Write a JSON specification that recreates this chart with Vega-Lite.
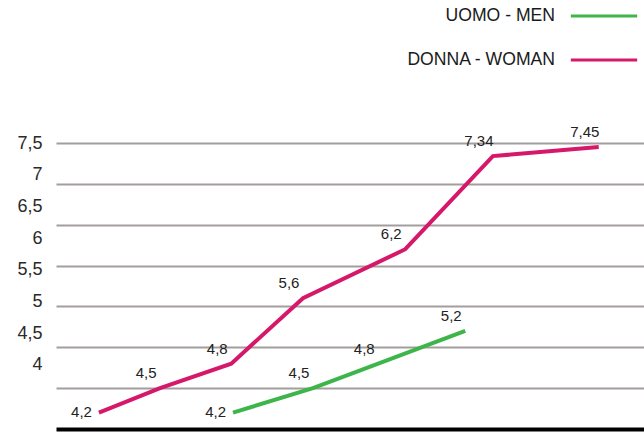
{
  "$schema": "https://vega.github.io/schema/vega-lite/v6.json",
  "width": 588,
  "height": 286,
  "autosize": {"type": "none"},
  "padding": {"left": 56, "top": 143, "right": 0, "bottom": 3},
  "background": "white",
  "config": {
    "view": {"stroke": null},
    "font": "Liberation Sans",
    "locale": {"number": {"decimal": ",", "thousands": ".", "grouping": [3], "currency": ["", " €"]}}
  },
  "data": {
    "values": [
      {"serie": "DONNA - WOMAN", "i": 1, "x": 7.3, "v": 4.2},
      {"serie": "DONNA - WOMAN", "i": 2, "x": 17.7, "v": 4.5},
      {"serie": "DONNA - WOMAN", "i": 3, "x": 29.8, "v": 4.8},
      {"serie": "DONNA - WOMAN", "i": 4, "x": 42.0, "v": 5.6},
      {"serie": "DONNA - WOMAN", "i": 5, "x": 59.4, "v": 6.2},
      {"serie": "DONNA - WOMAN", "i": 6, "x": 74.3, "v": 7.34},
      {"serie": "DONNA - WOMAN", "i": 7, "x": 92.3, "v": 7.45},
      {"serie": "UOMO - MEN", "i": 1, "x": 30.1, "v": 4.2},
      {"serie": "UOMO - MEN", "i": 2, "x": 43.7, "v": 4.5},
      {"serie": "UOMO - MEN", "i": 3, "x": 54.8, "v": 4.8},
      {"serie": "UOMO - MEN", "i": 4, "x": 69.6, "v": 5.2}
    ]
  },
  "encoding": {
    "x": {
      "field": "x",
      "type": "quantitative",
      "scale": {"domain": [0, 100], "nice": false, "zero": false},
      "axis": {
        "title": null,
        "labels": false,
        "ticks": false,
        "grid": false,
        "domain": true,
        "domainColor": "#000000",
        "domainWidth": 4
      }
    }
  },
  "layer": [
    {
      "layer": [
        {
          "mark": {"type": "line", "strokeWidth": 4, "strokeJoin": "miter", "strokeCap": "butt"},
          "encoding": {
            "y": {
              "field": "v",
              "type": "quantitative",
              "scale": {"domain": [4, 7.5], "nice": false, "zero": false},
              "axis": {
                "orient": "right",
                "title": null,
                "labels": false,
                "ticks": false,
                "domain": false,
                "grid": true,
                "values": [4.5, 5, 5.5, 6, 6.5, 7, 7.5],
                "gridColor": "#a39d9d",
                "gridWidth": 2
              }
            },
            "color": {
              "field": "serie",
              "type": "nominal",
              "scale": {"domain": ["UOMO - MEN", "DONNA - WOMAN"], "range": ["#3db54a", "#d6186a"]},
              "legend": {
                "title": null,
                "orient": "none",
                "legendX": 513,
                "legendY": -162,
                "direction": "vertical",
                "padding": 0,
                "symbolType": "stroke",
                "symbolSize": 4400,
                "symbolStrokeWidth": 3,
                "rowPadding": 0,
                "labelAlign": "right",
                "labelBaseline": "middle",
                "labelOffset": -84,
                "labelFontSize": 17.6,
                "labelColor": "#1a1a1a",
                "labelFont": "Liberation Sans",
                "labelLimit": 300
              }
            },
            "order": {"field": "i", "type": "quantitative"}
          }
        },
        {
          "transform": [{"filter": "datum.i == 1"}],
          "mark": {"type": "text", "align": "right", "baseline": "middle", "dx": -7, "dy": -1, "fontSize": 15, "color": "#222222"},
          "encoding": {
            "y": {"field": "v", "type": "quantitative"},
            "text": {"field": "v", "type": "quantitative", "format": "~g"}
          }
        },
        {
          "transform": [{"filter": "datum.i > 1"}],
          "mark": {"type": "text", "align": "center", "baseline": "middle", "dx": -14, "dy": -15, "fontSize": 15, "color": "#222222"},
          "encoding": {
            "y": {"field": "v", "type": "quantitative"},
            "text": {"field": "v", "type": "quantitative", "format": "~g"}
          }
        }
      ]
    },
    {
      "mark": {"type": "point", "opacity": 0},
      "encoding": {
        "y": {
          "field": "v",
          "type": "quantitative",
          "scale": {"domain": [2.99, 7.5], "nice": false, "zero": false},
          "axis": {
            "orient": "left",
            "title": null,
            "grid": false,
            "ticks": false,
            "tickSize": 0,
            "domain": false,
            "values": [4, 4.5, 5, 5.5, 6, 6.5, 7, 7.5],
            "format": ".1~f",
            "labelFontSize": 18,
            "labelColor": "#2a2a2a",
            "labelFont": "Liberation Sans",
            "labelPadding": 14
          }
        }
      }
    }
  ],
  "resolve": {"scale": {"y": "independent"}, "axis": {"y": "independent"}}
}
